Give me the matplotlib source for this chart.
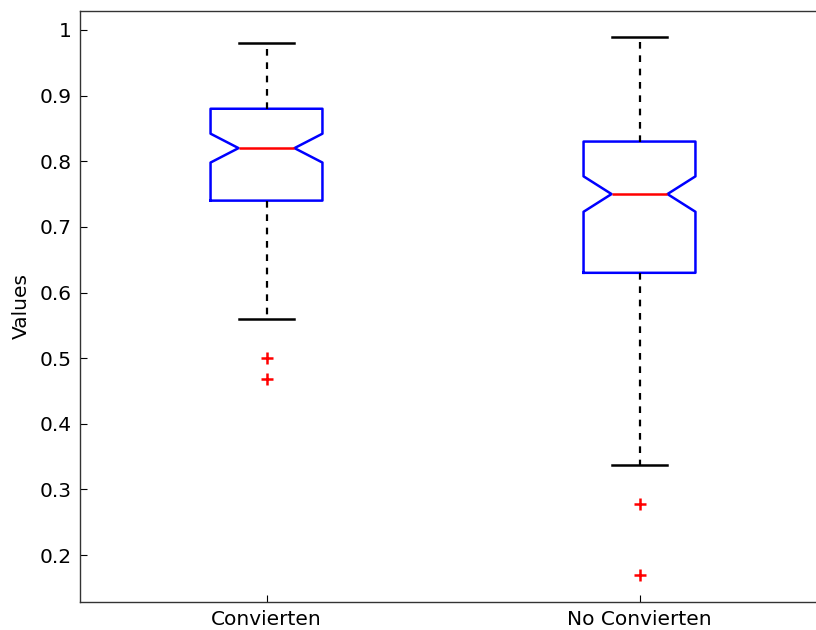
import matplotlib
matplotlib.use("Agg")
import matplotlib.pyplot as plt

categories = ["Convierten", "No Convierten"]
q1 = [0.74, 0.63]
q3 = [0.88, 0.83]
med = [0.82, 0.75]
ci_lo = [0.798, 0.723]
ci_hi = [0.842, 0.777]
whis_lo = [0.56, 0.337]
whis_hi = [0.98, 0.99]
outliers = [[0.50, 0.468], [0.278, 0.17]]

plt.rcParams['font.family'] = ['DejaVu Sans']

fig = plt.figure(figsize=(8.16, 6.3), dpi=100)
ax = fig.add_axes([80/816, 28/630, 746/816, 591.5/630])

stats = []
for i, c in enumerate(categories):
    stats.append(dict(label=c, q1=q1[i], q3=q3[i], med=med[i],
                      cilo=ci_lo[i], cihi=ci_hi[i],
                      whislo=whis_lo[i], whishi=whis_hi[i], fliers=outliers[i]))

ax.bxp(stats, positions=[1, 2], widths=0.3, shownotches=True,
       boxprops=dict(color='#0000ff', linewidth=1.8),
       medianprops=dict(color='#ff0000', linewidth=1.8),
       whiskerprops=dict(color='black', linewidth=1.6, linestyle=(0, (3, 3))),
       capprops=dict(color='black', linewidth=1.8),
       flierprops=dict(marker='+', markeredgecolor='#ff0000', markersize=8,
                       markeredgewidth=1.8, linestyle='none'))

ax.set_xlim(0.5, 2.5)
ax.set_ylim(0.1284, 1.0297)
ax.set_yticks([0.2, 0.3, 0.4, 0.5, 0.6, 0.7, 0.8, 0.9, 1.0])
ax.set_yticklabels(['0.2', '0.3', '0.4', '0.5', '0.6', '0.7', '0.8', '0.9', '1'])
ax.set_xticks([1, 2])
ax.set_xticklabels(categories)
ax.tick_params(direction='in', length=5, width=0.8, labelsize=14.5, pad=6)
ax.tick_params(axis='x', pad=6)
ax.set_ylabel('Values', fontsize=14.5, labelpad=6)
for s in ax.spines.values():
    s.set_linewidth(1.0)
    s.set_color('#333333')

fig.savefig('out.png', dpi=100)
